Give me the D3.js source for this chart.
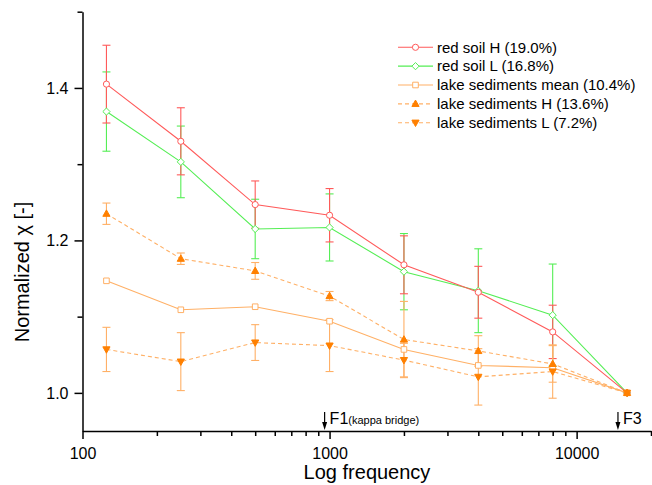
<!DOCTYPE html>
<html>
<head>
<meta charset="utf-8">
<script src="https://cdn.jsdelivr.net/npm/d3@7"></script>
<style>
  html, body { margin: 0; padding: 0; background: #fff; }
  svg { display: block; font-family: "Liberation Sans", Arial, sans-serif; }
</style>
</head>
<body>
<svg id="chart" width="652" height="485"></svg>
<script>
// ---- data ----
const freqs = [125, 250, 500, 1000, 2000, 4000, 8000, 16000];
const redSoilH    = [1.405, 1.330, 1.247, 1.233, 1.168, 1.132, 1.080, 1.000];
const redSoilHErr = [0.051, 0.044, 0.031, 0.035, 0.038, 0.034, 0.035, 0];
const redSoilL    = [1.369, 1.303, 1.215, 1.217, 1.159, 1.134, 1.102, 1.000];
const redSoilLErr = [0.052, 0.047, 0.039, 0.044, 0.050, 0.055, 0.067, 0];
const lakeMean    = [1.147, 1.109, 1.113, 1.094, 1.057, 1.036, 1.033, 1.000];
const lakeH       = [1.235, 1.176, 1.160, 1.127, 1.070, 1.055, 1.038, 1.000];
const lakeHErr    = [0.014, 0.0075, 0.011, 0.006, 0.050, 0.020, 0.024, 0];
const lakeL       = [1.057, 1.041, 1.066, 1.062, 1.043, 1.021, 1.028, 1.000];
const lakeLErr    = [0.029, 0.038, 0.0235, 0.034, 0.022, 0.037, 0.035, 0];
const seriesNames = ["red soil H (19.0%)", "red soil L (16.8%)", "lake sediments mean (10.4%)",
                     "lake sediments H (13.6%)", "lake sediments L (7.2%)"];
const xMajorTicks = [100, 1000, 10000];
const xMinorTicks = [200,300,400,500,600,700,800,900,2000,3000,4000,5000,6000,7000,8000,9000,20000];
const yMajorTicks = [1.0, 1.2, 1.4];
const yMinorTicks = [1.1, 1.3, 1.5];
const markerFreqs = [955, 14700];
const markerLabels = ["F1", "F3"];
const markerSubs = ["(kappa bridge)", ""];

// ---- setup ----
const svg = d3.select("#chart");
const x = d3.scaleLog().domain([100, 20000]).range([82.5, 651]);
const y = d3.scaleLinear().domain([0.95, 1.5]).range([431, 11.7]);

const RED = "#ff5a5a", GREEN = "#55ee55", ORANGE_L = "#ffb066", ORANGE = "#ff8000";

const series = [
  {name: seriesNames[0], vals: redSoilH, err: redSoilHErr, color: RED, errColor: RED, dash: null, marker: "circle", fill: "#fff", mcolor: RED},
  {name: seriesNames[1], vals: redSoilL, err: redSoilLErr, color: GREEN, errColor: GREEN, dash: null, marker: "diamond", fill: "#fff", mcolor: GREEN},
  {name: seriesNames[2], vals: lakeMean, err: null, color: ORANGE_L, errColor: ORANGE_L, dash: null, marker: "square", fill: "#fff", mcolor: ORANGE_L},
  {name: seriesNames[3], vals: lakeH, err: lakeHErr, color: ORANGE_L, errColor: ORANGE_L, dash: "4,3", marker: "triUp", fill: ORANGE, mcolor: ORANGE},
  {name: seriesNames[4], vals: lakeL, err: lakeLErr, color: ORANGE_L, errColor: ORANGE_L, dash: "4,3", marker: "triDown", fill: ORANGE, mcolor: ORANGE}
];

function markerPath(type) {
  switch (type) {
    case "circle": return d3.symbol(d3.symbolCircle, 30)();
    case "square": return "M-2.8,-2.8H2.8V2.8H-2.8Z";
    case "diamond": return "M0,-3.6L3.6,0L0,3.6L-3.6,0Z";
    case "triUp": return "M0,-3.8L3.6,2.6L-3.6,2.6Z";
    case "triDown": return "M0,3.8L3.6,-2.6L-3.6,-2.6Z";
  }
}

// ---- axes ----
const gx = svg.append("g").attr("transform", "translate(0,431)");
gx.call(d3.axisBottom(x).tickValues(xMajorTicks).tickSize(8).tickSizeOuter(0).tickFormat(d3.format("d")))
  .call(g => g.selectAll("text").attr("font-size", 16).attr("fill", "#000").attr("dy", "0.97em").attr("y", 12)
               .attr("font-family", "Liberation Sans, Arial, sans-serif"));
gx.append("g").call(d3.axisBottom(x).tickValues(xMinorTicks).tickSize(5).tickSizeOuter(0).tickFormat(""))
  .call(g => g.select(".domain").remove());
gx.selectAll("line").attr("stroke", "#000").attr("stroke-width", 1.5);
gx.selectAll(".domain").attr("stroke", "#000").attr("stroke-width", 1.5);

const gy = svg.append("g").attr("transform", "translate(82.5,0)");
gy.call(d3.axisLeft(y).tickValues(yMajorTicks).tickSize(8).tickSizeOuter(0).tickFormat(d3.format(".1f")))
  .call(g => g.selectAll("text").attr("font-size", 16).attr("fill", "#000").attr("x", -14)
               .attr("font-family", "Liberation Sans, Arial, sans-serif"));
gy.append("g").call(d3.axisLeft(y).tickValues(yMinorTicks).tickSize(5).tickSizeOuter(0).tickFormat(""))
  .call(g => g.select(".domain").remove());
gy.selectAll("line").attr("stroke", "#000").attr("stroke-width", 1.5);
gy.selectAll(".domain").attr("stroke", "#000").attr("stroke-width", 1.5);

// axis titles
svg.append("text").attr("x", 367).attr("y", 479).attr("text-anchor", "middle")
  .attr("font-size", 20).attr("fill", "#000").text("Log frequency");
svg.append("text").attr("transform", "translate(29,272) rotate(-90)").attr("text-anchor", "middle")
  .attr("font-size", 20).attr("fill", "#000").text("Normalized χ [-]");

// ---- data layers ----
const plot = svg.append("g");
const draw = [1, 0, 2, 3, 4];
draw.forEach(i => {
  const s = series[i];
  const pts = freqs.map((f, k) => ({f, v: s.vals[k], e: s.err ? s.err[k] : 0}));
  const line = d3.line().x(d => x(d.f)).y(d => y(d.v));
  plot.append("path").datum(pts).attr("d", line).attr("fill", "none")
    .attr("stroke", s.color).attr("stroke-width", 1.1)
    .attr("stroke-dasharray", s.dash);
  if (s.err) {
    const eg = plot.append("g").attr("stroke", s.errColor).attr("stroke-width", 1.1);
    pts.filter(d => d.e > 0).forEach(d => {
      const cx = x(d.f), y1 = y(d.v + d.e), y2 = y(d.v - d.e);
      eg.append("line").attr("x1", cx).attr("x2", cx).attr("y1", y1).attr("y2", y2);
      eg.append("line").attr("x1", cx - 4).attr("x2", cx + 4).attr("y1", y1).attr("y2", y1);
      eg.append("line").attr("x1", cx - 4).attr("x2", cx + 4).attr("y1", y2).attr("y2", y2);
    });
  }
});
draw.forEach(i => {
  const s = series[i];
  plot.append("g").selectAll("path").data(freqs.map((f, k) => ({f, v: s.vals[k]})))
    .join("path")
    .attr("transform", d => `translate(${x(d.f)},${y(d.v)})`)
    .attr("d", markerPath(s.marker))
    .attr("fill", s.fill).attr("stroke", s.mcolor).attr("stroke-width", 1);
});

// ---- frequency markers ----
markerFreqs.forEach((f, i) => {
  const cx = x(f);
  const g = svg.append("g");
  g.append("line").attr("x1", cx).attr("x2", cx).attr("y1", 412).attr("y2", 424)
    .attr("stroke", "#000").attr("stroke-width", 1.2);
  g.append("path").attr("d", `M${cx - 2.5},${422}L${cx + 2.5},${422}L${cx},${430}Z`).attr("fill", "#000");
  const t = g.append("text").attr("x", cx + 5).attr("y", 424).attr("font-size", 16).attr("fill", "#000");
  t.append("tspan").text(markerLabels[i]);
  if (markerSubs[i]) t.append("tspan").attr("font-size", 11).text(markerSubs[i]);
});

// ---- legend ----
const leg = svg.append("g");
series.forEach((s, i) => {
  const ly = 47.3 + i * 18.85;
  leg.append("line").attr("x1", 398).attr("x2", 433).attr("y1", ly).attr("y2", ly)
    .attr("stroke", s.color).attr("stroke-width", 1.1).attr("stroke-dasharray", s.dash);
  leg.append("path").attr("transform", `translate(415.5,${ly})`).attr("d", markerPath(s.marker))
    .attr("fill", s.fill).attr("stroke", s.mcolor).attr("stroke-width", 1);
  leg.append("text").attr("x", 437).attr("y", ly).attr("dy", "0.35em")
    .attr("font-size", 15).attr("fill", "#000").text(s.name);
});
</script>
</body>
</html>
